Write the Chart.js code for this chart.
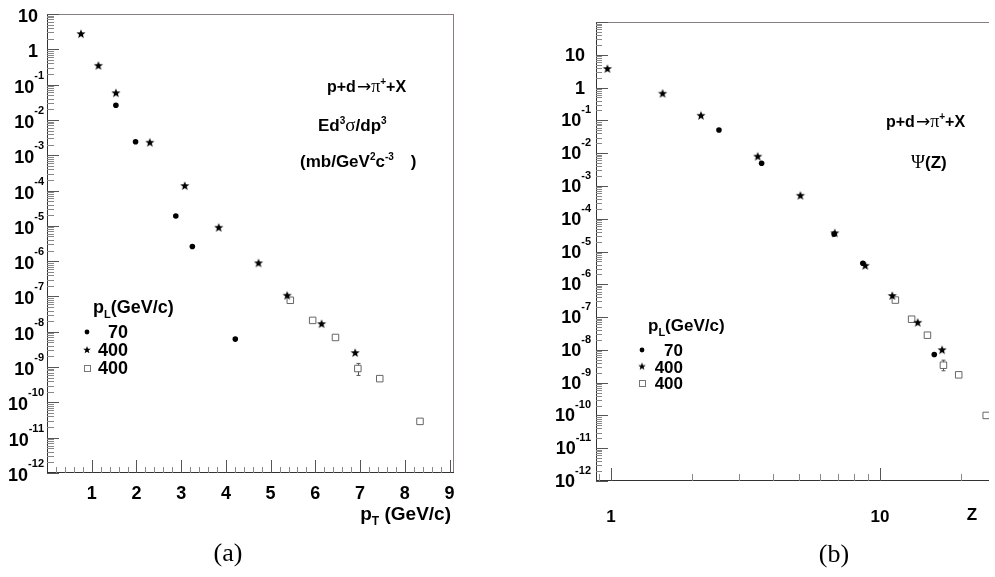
<!DOCTYPE html>
<html>
<head>
<meta charset="utf-8">
<script src="https://cdn.jsdelivr.net/npm/chart.js@4.4.1/dist/chart.umd.min.js"></script>
<style>
  body{margin:0;background:#fff;width:995px;height:577px;overflow:hidden;position:relative}
  canvas{position:absolute;top:0}
  #cA{left:0}
  #cB{left:497px}
</style>
</head>
<body>
<canvas id="cA" width="497" height="577"></canvas>
<canvas id="cB" width="498" height="577"></canvas>
<script>
// ---------- data (a): E d3s/dp3 vs pT ----------
const pt70    = [1.54, 1.98, 2.88, 3.25, 4.21];
const ed70    = [0.026, 0.0024, 1.9e-5, 2.6e-6, 6.2e-9];
const pt400s  = [0.76, 1.15, 1.54, 2.30, 3.08, 3.84, 4.73, 5.37, 6.14, 6.89];
const ed400s  = [2.7, 0.34, 0.057, 0.00226, 1.34e-4, 8.8e-6, 8.7e-7, 1.05e-7, 1.65e-8, 2.5e-9];
const pt400q  = [5.44, 5.94, 6.45, 6.95, 7.44, 8.34];
const ed400q  = [7.8e-8, 2.1e-8, 6.9e-9, 9.1e-10, 4.7e-10, 2.9e-11];
const ed400qLo = [null, null, null, 5.8e-10, null, null];
const ed400qHi = [null, null, null, 1.27e-9, null, null];

// ---------- data (b): Psi(Z) vs Z ----------
const z70     = [2.52, 3.63, 6.75, 8.63, 15.9];
const psi70   = [0.0506, 4.9e-3, 3.4e-5, 4.4e-6, 7.2e-9];
const z400s   = [0.97, 1.556, 2.16, 3.51, 5.06, 6.79, 8.81, 11.1, 13.8, 17.0];
const psi400s = [3.7, 0.65, 0.138, 7.8e-3, 5.0e-4, 3.6e-5, 3.65e-6, 4.4e-7, 6.7e-8, 9.8e-9];
const z400q   = [11.4, 13.1, 15.0, 17.2, 19.6, 24.8];
const psi400q = [3.3e-7, 8.6e-8, 2.8e-8, 3.4e-9, 1.73e-9, 1.0e-10];
const psi400qLo = [null, null, null, 2.3e-9, null, null];
const psi400qHi = [null, null, null, 4.85e-9, null, null];

// ---------- axis ticks / labels ----------
const ptTicks   = [1, 2, 3, 4, 5, 6, 7, 8, 9];
const zMajor    = [1, 10];
const zMinor    = [0.9, 2, 3, 4, 5, 6, 7, 8, 9, 20];
const zLabels   = ['1', '10'];
const yExpA     = [1, 0, -1, -2, -3, -4, -5, -6, -7, -8, -9, -10, -11, -12];
const yExpB     = [1, 0, -1, -2, -3, -4, -5, -6, -7, -8, -9, -10, -11, -12];
const legendVals = ['70', '400', '400'];

const SANS = '"Liberation Sans", Arial, Helvetica, sans-serif';
const SERIF = '"Liberation Serif", "Times New Roman", serif';
const bf = px => 'bold ' + px + 'px ' + SANS;
const sf = px => px + 'px ' + SERIF;
const af = px => px + 'px "DejaVu Sans", sans-serif';

// filled five-point star used as marker
function starImg(r){
  const s = Math.ceil(r*2+2);
  const c = document.createElement('canvas'); c.width = c.height = s;
  const g = c.getContext('2d');
  g.fillStyle = '#000'; g.beginPath();
  for(let i=0;i<10;i++){
    const a = -Math.PI/2 + i*Math.PI/5, rr = i%2 ? r*0.42 : r;
    g.lineTo(s/2 + rr*Math.cos(a), s/2 + rr*Math.sin(a));
  }
  g.closePath(); g.fill();
  return c;
}
const STAR = starImg(4.8);
const STAR_S = starImg(4);

const pts = (xs, ys) => xs.map((x,i)=>({x:x, y:ys[i]}));

// text runs: [{t, f, dy, dx}]
function runs(ctx, x, y, list){
  ctx.textAlign = 'left'; ctx.textBaseline = 'alphabetic';
  for(const r of list){
    x += r.dx || 0;
    ctx.font = r.f;
    ctx.fillText(r.t, x, y + (r.dy || 0));
    x += ctx.measureText(r.t).width;
  }
  return x;
}
function runsWidth(ctx, list){
  let w = 0;
  for(const r of list){ ctx.font = r.f; w += (r.dx||0) + ctx.measureText(r.t).width; }
  return w;
}

function seg(ctx, x1, y1, x2, y2){ ctx.beginPath(); ctx.moveTo(x1,y1); ctx.lineTo(x2,y2); ctx.stroke(); }

// 10^n labels the ROOT way
function powLabel(ctx, n, py, plainRight, expRight, size, expSize, dyBase, dyExp){
  ctx.fillStyle = '#000'; ctx.textBaseline = 'alphabetic';
  if(n >= 0){
    ctx.font = bf(size); ctx.textAlign = 'right';
    ctx.fillText(String(Math.pow(10,n)), plainRight, py + dyBase);
    return;
  }
  const ex = String(n);
  ctx.font = bf(expSize); const ew = ctx.measureText(ex).width;
  ctx.textAlign = 'left';
  ctx.fillText(ex, expRight - ew, py + dyExp);
  ctx.font = bf(size); ctx.textAlign = 'right';
  ctx.fillText('10', expRight - ew, py + dyBase);
}

function logYTicks(ctx, ys, area, major, minor){
  const lo = Math.floor(Math.log10(ys.min)), hi = Math.ceil(Math.log10(ys.max));
  for(let e=lo;e<=hi;e++){
    for(let m=1;m<10;m++){
      const v = m*Math.pow(10,e);
      if(v < ys.min*0.999 || v > ys.max*1.001) continue;
      const py = Math.round(ys.getPixelForValue(v)) + 0.5;
      ctx.strokeStyle = m===1 ? '#555' : '#888';
      seg(ctx, area.left, py, area.left + (m===1 ? major : minor), py);
    }
  }
}

function errorBars(chart, dsIndex, lo, hi){
  const ctx = chart.ctx, xs = chart.scales.x, ys = chart.scales.y;
  const xsData = chart.data.datasets[dsIndex].data;
  ctx.save(); ctx.strokeStyle = '#555'; ctx.lineWidth = 1;
  lo.forEach((l,i)=>{
    if(l == null) return;
    const px = Math.round(xs.getPixelForValue(xsData[i].x)) + 0.5;
    const y1 = ys.getPixelForValue(l), y2 = ys.getPixelForValue(hi[i]);
    seg(ctx, px, y1, px, y2);
    seg(ctx, px-2, y1, px+2, y1);
    seg(ctx, px-2, y2, px+2, y2);
  });
  ctx.restore();
}

function legend(ctx, x0, yTitle, y0, step, size){
  ctx.fillStyle = '#000';
  runs(ctx, x0 + 6, yTitle, [{t:'p', f:bf(size)}, {t:'L', f:bf(11), dy:5}, {t:'(GeV/c)', f:bf(size)}]);
  const textRight = x0 + 41;
  for(let i=0;i<3;i++){
    const cy = y0 + i*step;
    if(i===0){ ctx.beginPath(); ctx.arc(x0, cy, 2.4, 0, Math.PI*2); ctx.fill(); }
    if(i===1){ ctx.drawImage(STAR_S, x0 - STAR_S.width/2, cy - STAR_S.height/2); }
    if(i===2){ ctx.strokeStyle = '#777'; ctx.fillStyle = '#fff'; ctx.fillRect(x0-3, cy-3, 6, 6); ctx.strokeRect(x0-2.5, cy-2.5, 6, 6); ctx.fillStyle = '#000'; }
    ctx.font = bf(size); ctx.textAlign = 'right'; ctx.textBaseline = 'alphabetic';
    ctx.fillText(legendVals[i], textRight, cy + 6);
  }
}

function reaction(ctx, x, y){
  runs(ctx, x, y, [
    {t:'p+d', f:bf(16)}, {t:'\u2192', f:af(17), dx:1}, {t:'\u03C0', f:sf(18)}, {t:'+', f:bf(10), dy:-7}, {t:'+X', f:bf(16)}
  ]);
}

// ---------- decor plugin for panel (a) ----------
const decorA = {
  id: 'decorA',
  beforeDatasetsDraw(chart){ errorBars(chart, 2, ed400qLo, ed400qHi); },
  afterDraw(chart){
    const ctx = chart.ctx, a = chart.chartArea, xs = chart.scales.x, ys = chart.scales.y;
    ctx.save(); ctx.lineWidth = 1;
    // frame
    ctx.strokeStyle = '#8a7d7d';
    seg(ctx, a.left, a.top + 0.5, a.right, a.top + 0.5);
    seg(ctx, a.right - 0.5, a.top, a.right - 0.5, a.bottom);
    ctx.strokeStyle = '#333';
    seg(ctx, a.left + 0.5, a.top, a.left + 0.5, a.bottom);
    seg(ctx, a.left, a.bottom - 0.5, a.right, a.bottom - 0.5);
    // x ticks
    for(let k=1;k<=45;k++){
      const v = k*0.2, px = Math.round(xs.getPixelForValue(v)) + 0.5;
      const isMaj = k%5===0;
      ctx.strokeStyle = isMaj ? '#555' : '#888';
      seg(ctx, px, a.bottom, px, a.bottom - (isMaj ? 13 : 6));
    }
    logYTicks(ctx, ys, a, 12, 7);
    // labels
    ctx.fillStyle = '#000';
    ctx.font = bf(18); ctx.textAlign = 'center'; ctx.textBaseline = 'alphabetic';
    ptTicks.forEach(v => ctx.fillText(String(v), xs.getPixelForValue(v), a.bottom + 26));
    yExpA.forEach(n => powLabel(ctx, n, ys.getPixelForValue(Math.pow(10,n)), 38, 44, 18, 11, 8, -6));
    const tl = [{t:'p', f:bf(19)}, {t:'T', f:bf(12), dy:5}, {t:' (GeV/c)', f:bf(19)}];
    runs(ctx, 451 - runsWidth(ctx, tl), 520, tl);
    // annotations
    reaction(ctx, 327, 92);
    runs(ctx, 318, 131, [{t:'Ed', f:bf(17)}, {t:'3', f:bf(10), dy:-7}, {t:'\u03C3', f:sf(19)}, {t:'/dp', f:bf(17)}, {t:'3', f:bf(10), dy:-7}]);
    runs(ctx, 300, 167, [{t:'(mb/GeV', f:bf(17)}, {t:'2', f:bf(10), dy:-7}, {t:'c', f:bf(17)}, {t:'-3', f:bf(10), dy:-7}, {t:')', f:bf(17), dx:17}]);
    legend(ctx, 87, 313, 332, 18, 18);
    ctx.font = sf(26); ctx.textAlign = 'center';
    ctx.fillText('(a)', 228, 561);
    ctx.restore();
  }
};

// ---------- decor plugin for panel (b) ----------
const decorB = {
  id: 'decorB',
  beforeDatasetsDraw(chart){ errorBars(chart, 2, psi400qLo, psi400qHi); },
  afterDraw(chart){
    const ctx = chart.ctx, a = chart.chartArea, xs = chart.scales.x, ys = chart.scales.y;
    const off = 497;
    ctx.save(); ctx.lineWidth = 1;
    ctx.strokeStyle = '#8a7d7d';
    seg(ctx, a.left, a.top + 0.5, a.right, a.top + 0.5);
    ctx.strokeStyle = '#333';
    seg(ctx, a.left + 0.5, a.top, a.left + 0.5, a.bottom);
    seg(ctx, a.left, a.bottom - 0.5, a.right, a.bottom - 0.5);
    zMajor.forEach(v => { const px = Math.round(xs.getPixelForValue(v)) + 0.5; ctx.strokeStyle = '#555'; seg(ctx, px, a.bottom, px, a.bottom - 13); });
    zMinor.forEach(v => { const px = Math.round(xs.getPixelForValue(v)) + 0.5; ctx.strokeStyle = '#888'; seg(ctx, px, a.bottom, px, a.bottom - 7); });
    logYTicks(ctx, ys, a, 12, 6);
    ctx.fillStyle = '#000';
    ctx.font = bf(17); ctx.textAlign = 'center'; ctx.textBaseline = 'alphabetic';
    zMajor.forEach((v,i) => ctx.fillText(zLabels[i], xs.getPixelForValue(v), 522));
    ctx.fillText('Z', 972 - off, 520);
    yExpB.forEach(n => powLabel(ctx, n, ys.getPixelForValue(Math.pow(10,n)), 585 - off, 591 - off, 18, 11, 6, -7));
    reaction(ctx, 886 - off, 127);
    runs(ctx, 911 - off, 168, [{t:'\u03A8', f:sf(19)}, {t:'(Z)', f:bf(17)}]);
    legend(ctx, 642 - off, 331, 350, 16.5, 17);
    ctx.font = sf(26); ctx.textAlign = 'center';
    ctx.fillText('(b)', 834 - off, 562);
    ctx.restore();
  }
};

function sets(d70, d400s, d400q){
  return [
    {data:d70, pointStyle:'circle', radius:2.8, backgroundColor:'#000', borderColor:'#000', borderWidth:0},
    {data:d400s, pointStyle:STAR, radius:5},
    {data:d400q, pointStyle:'rect', radius:4.6, backgroundColor:'#fff', borderColor:'#666', borderWidth:1}
  ];
}

const common = {
  responsive:false, animation:false, events:[],
  plugins:{legend:{display:false}, tooltip:{enabled:false}}
};

new Chart(document.getElementById('cA'), {
  type:'scatter',
  data:{datasets: sets(pts(pt70, ed70), pts(pt400s, ed400s), pts(pt400q, ed400q))},
  options:Object.assign({}, common, {
    layout:{padding:{left:47, top:14, right:43, bottom:104}},
    scales:{
      x:{type:'linear', min:0, max:9.1, bounds:'data', display:false},
      y:{type:'logarithmic', min:1e-12, max:10, bounds:'data', display:false}
    }
  }),
  plugins:[decorA]
});

new Chart(document.getElementById('cB'), {
  type:'scatter',
  data:{datasets: sets(pts(z70, psi70), pts(z400s, psi400s), pts(z400q, psi400q))},
  options:Object.assign({}, common, {
    layout:{padding:{left:99, top:22, right:0, bottom:96}},
    scales:{
      x:{type:'logarithmic', min:0.88, max:25.4, bounds:'data', display:false},
      y:{type:'logarithmic', min:1e-12, max:100, bounds:'data', display:false}
    }
  }),
  plugins:[decorB]
});
</script>
</body>
</html>
